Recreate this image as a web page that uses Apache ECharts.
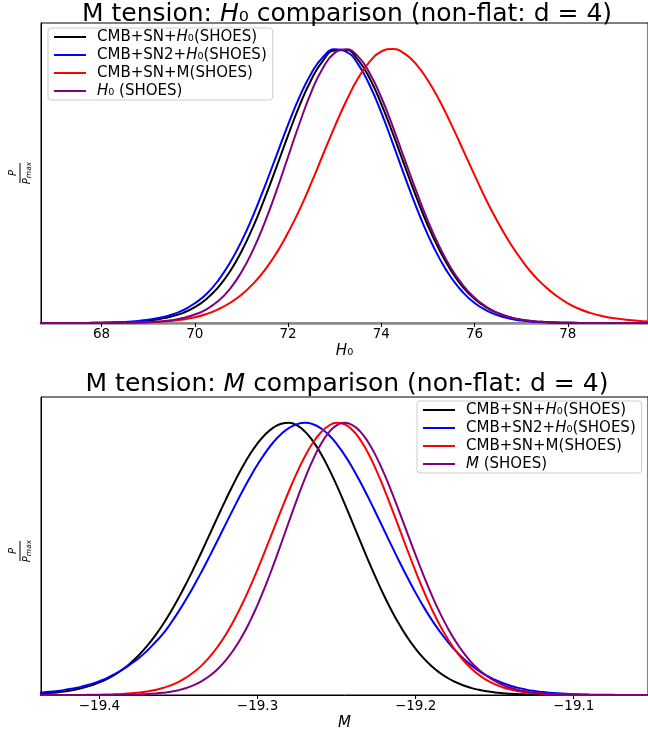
<!DOCTYPE html>
<html>
<head>
<meta charset="utf-8">
<script src="https://cdn.jsdelivr.net/npm/echarts@6/dist/echarts.min.js"></script>
<style>
html,body{margin:0;padding:0;background:#fff;}
#chart{width:648px;height:741px;}
</style>
</head>
<body>
<div id="chart"></div>
<script>
// ---------- data ----------
const seriesNames = ['CMB+SN+H0(SHOES)', 'CMB+SN2+H0(SHOES)', 'CMB+SN+M(SHOES)'];
const lastNameTop = 'H0 (SHOES)';
const lastNameBottom = 'M (SHOES)';
const colors = ['#000000', '#0000ff', '#ff0000', '#800080'];

// Top panel: H0 grid and normalised probabilities
const h0X = [66.5,66.75,67,67.25,67.5,67.75,68,68.25,68.5,68.75,69,69.25,69.5,69.75,70,70.25,70.5,70.75,71,71.25,71.5,71.75,72,72.25,72.5,72.75,73,73.25,73.5,73.75,74,74.25,74.5,74.75,75,75.25,75.5,75.75,76,76.25,76.5,76.75,77,77.25,77.5,77.75,78,78.25,78.5,78.75,79,79.25,79.5,79.75];
const h0Black  = [0,0,0,0,0.0001,0.0003,0.0008,0.0015,0.003,0.005,0.009,0.015,0.024,0.037,0.058,0.088,0.130,0.187,0.261,0.351,0.456,0.569,0.685,0.795,0.889,0.958,0.995,0.996,0.960,0.893,0.799,0.690,0.574,0.460,0.355,0.265,0.190,0.131,0.088,0.057,0.036,0.021,0.012,0.0068,0.0037,0.0019,0.0009,0.0004,0.0002,0.0001,0,0,0,0];
const h0Blue   = [0,0,0,0.0001,0.0003,0.0006,0.0012,0.0022,0.004,0.0068,0.012,0.019,0.030,0.047,0.072,0.106,0.155,0.219,0.298,0.392,0.499,0.611,0.724,0.827,0.912,0.971,0.999,0.990,0.945,0.868,0.768,0.654,0.536,0.423,0.321,0.235,0.165,0.112,0.073,0.046,0.028,0.016,0.009,0.0049,0.0025,0.0013,0.0007,0.0003,0.0002,0.0001,0,0,0,0];
const h0Red    = [0,0,0,0,0.0001,0.0001,0.0002,0.0004,0.0007,0.0013,0.0025,0.0045,0.008,0.013,0.021,0.033,0.050,0.073,0.103,0.143,0.193,0.255,0.330,0.415,0.512,0.615,0.717,0.811,0.893,0.954,0.991,1.0,0.983,0.944,0.885,0.811,0.725,0.633,0.540,0.449,0.368,0.295,0.232,0.178,0.135,0.100,0.072,0.051,0.036,0.025,0.017,0.012,0.008,0.005];
const h0Purple = [0,0,0,0,0,0,0.0001,0.0002,0.0007,0.0014,0.003,0.0055,0.010,0.018,0.031,0.050,0.080,0.124,0.186,0.267,0.367,0.482,0.607,0.731,0.844,0.932,0.986,0.999,0.973,0.912,0.823,0.715,0.597,0.481,0.372,0.278,0.199,0.138,0.092,0.059,0.036,0.0215,0.0123,0.0067,0.0036,0.0018,0.0009,0.0004,0.0002,0.0001,0,0,0,0];
const h0Ticks = [68,70,72,74,76,78];

// Bottom panel: M grid and normalised probabilities
const mX = [-19.44,-19.435,-19.43,-19.425,-19.42,-19.415,-19.41,-19.405,-19.40,-19.395,-19.39,-19.385,-19.38,-19.375,-19.37,-19.365,-19.36,-19.355,-19.35,-19.345,-19.34,-19.335,-19.33,-19.325,-19.32,-19.315,-19.31,-19.305,-19.30,-19.295,-19.29,-19.285,-19.28,-19.275,-19.27,-19.265,-19.26,-19.255,-19.25,-19.245,-19.24,-19.235,-19.23,-19.225,-19.22,-19.215,-19.21,-19.205,-19.20,-19.195,-19.19,-19.185,-19.18,-19.175,-19.17,-19.165,-19.16,-19.155,-19.15,-19.145,-19.14,-19.135,-19.13,-19.125,-19.12,-19.115,-19.11,-19.105,-19.10,-19.095,-19.09,-19.085,-19.08,-19.075,-19.07,-19.065,-19.06,-19.055,-19.05];
const mBlack  = [0.0041,0.0058,0.0081,0.0111,0.0151,0.0203,0.0270,0.0355,0.0463,0.0596,0.0759,0.0956,0.1192,0.1469,0.1792,0.2163,0.2582,0.3048,0.3559,0.4111,0.4698,0.5311,0.5939,0.6570,0.7188,0.7781,0.8332,0.8825,0.9247,0.9584,0.9826,0.9965,1.0,0.9903,0.9678,0.9331,0.8876,0.8329,0.7711,0.7044,0.6347,0.5643,0.4949,0.4283,0.3656,0.3079,0.2559,0.2097,0.1696,0.1353,0.1065,0.0827,0.0634,0.0479,0.0357,0.0263,0.0191,0.0137,0.0096,0.0067,0.0046,0.0031,0.0021,0.0014,0.0009,0.0006,0.0004,0.0002,0.0001,0.0001,0,0,0,0,0,0,0,0,0];
const mBlue   = [0.008,0.010,0.013,0.016,0.021,0.026,0.033,0.041,0.051,0.063,0.078,0.095,0.115,0.136,0.162,0.192,0.2236,0.2629,0.3063,0.3534,0.4041,0.4578,0.5139,0.5716,0.6298,0.6877,0.7439,0.7973,0.8467,0.8908,0.9287,0.9592,0.9817,0.9954,1.0,0.995,0.9802,0.956,0.9231,0.8825,0.8353,0.7827,0.7261,0.667,0.6065,0.5461,0.4868,0.4296,0.3753,0.3247,0.278,0.2357,0.1979,0.1645,0.1353,0.1103,0.0889,0.071,0.0561,0.0439,0.034,0.0261,0.0198,0.0149,0.0111,0.0082,0.006,0.0043,0.0031,0.0022,0.0015,0.0011,0.0007,0.0005,0.0003,0.0002,0.0001,0.0001,0];
const mRed    = [0,0,0.0001,0.0001,0.0002,0.0003,0.0004,0.0007,0.0011,0.0018,0.0027,0.0041,0.0061,0.0089,0.0128,0.0183,0.0256,0.0354,0.0481,0.0645,0.0852,0.1108,0.1421,0.1794,0.2233,0.2737,0.3306,0.3935,0.4613,0.5329,0.6065,0.6801,0.7514,0.8178,0.8771,0.9267,0.9646,0.9894,1.0,0.9947,0.9737,0.9376,0.8881,0.8275,0.7584,0.6839,0.6065,0.5292,0.4542,0.3834,0.3184,0.2602,0.2091,0.1653,0.1285,0.0983,0.074,0.0548,0.0399,0.0286,0.0201,0.0139,0.0095,0.0064,0.0042,0.0027,0.0017,0.0011,0.0007,0.0004,0.0002,0.0001,0.0001,0,0,0,0,0,0];
const mPurple = [0,0,0,0,0,0,0.0001,0.0001,0.0002,0.0003,0.0005,0.0008,0.0013,0.0021,0.0033,0.0052,0.008,0.012,0.0178,0.0259,0.037,0.0519,0.0714,0.0966,0.1282,0.167,0.2137,0.2685,0.3313,0.4013,0.4773,0.5575,0.6393,0.7199,0.7959,0.8641,0.9211,0.9641,0.9909,1.0,0.9918,0.9677,0.9287,0.8768,0.8142,0.7439,0.6685,0.591,0.5139,0.4396,0.37,0.3062,0.2494,0.1997,0.1574,0.122,0.093,0.0698,0.0515,0.0374,0.0267,0.0187,0.0129,0.0088,0.0059,0.0039,0.0025,0.0016,0.001,0.0006,0.0004,0.0002,0.0001,0.0001,0,0,0,0,0];
const mTicks = [-19.4,-19.3,-19.2,-19.1];

// ---------- chart ----------
const FONT = 'DejaVu Sans';
const pairs = (xs, ys) => xs.map((x, i) => [x, ys[i]]);

const legendLabel = {
  'CMB+SN+H0(SHOES)': '{g| }CMB+SN+{i|H}₀(SHOES)',
  'CMB+SN2+H0(SHOES)': '{g| }CMB+SN2+{i|H}₀(SHOES)',
  'CMB+SN+M(SHOES)': '{g| }CMB+SN+M(SHOES)',
  'H0 (SHOES)': '{g| }{i|H}₀ (SHOES)',
  'M (SHOES)': '{g| }{i|M} (SHOES)'
};
const LEG_FS = 15;
const richBase = {
  g: {width: 6, fontSize: LEG_FS, fontFamily: FONT, lineHeight: 18},
  i: {fontStyle: 'italic', fontSize: LEG_FS, fontFamily: FONT, color: '#000', lineHeight: 18}
};

function mkSeries(name, xs, ys, color, idx) {
  return {
    type: 'line', name: name, xAxisIndex: idx, yAxisIndex: idx,
    data: pairs(xs, ys), smooth: 0.5, showSymbol: false, symbol: 'none',
    lineStyle: {color: color, width: 2}, itemStyle: {color: color},
    emphasis: {disabled: true}, animation: false
  };
}

function mkLegend(names, left, top) {
  return {
    orient: 'vertical', left: left, top: top,
    data: names, icon: 'rect', itemWidth: 32, itemHeight: 2, itemGap: 0,
    padding: [0, 6, 0, 6],
    backgroundColor: 'rgba(255,255,255,0.85)', borderColor: '#cccccc', borderWidth: 1, borderRadius: 3,
    formatter: n => legendLabel[n],
    textStyle: {fontSize: LEG_FS, fontFamily: FONT, color: '#000', lineHeight: 18, rich: richBase},
    selectedMode: false
  };
}

function mkXAxis(idx, min, max, ticks, name, lineColor, lineWidth, fmt) {
  return {
    type: 'value', gridIndex: idx, min: min, max: max,
    name: name, nameLocation: 'middle', nameGap: 21,
    nameTextStyle: {fontSize: 15, fontFamily: FONT, color: '#000',
      rich: {i: {fontStyle: 'italic', fontSize: 15, fontFamily: FONT, color: '#000'}}},
    axisLine: {show: true, onZero: false, lineStyle: {color: lineColor, width: lineWidth}},
    axisTick: {show: true, length: 4, inside: false, customValues: ticks, lineStyle: {color: '#000', width: 1}},
    axisLabel: {show: true, customValues: ticks, margin: 4, fontSize: 13.5, fontFamily: FONT, color: '#000', formatter: fmt},
    splitLine: {show: false}
  };
}
function mkYAxis(idx) {
  return {
    type: 'value', gridIndex: idx, min: 0, max: 1.095,
    axisLine: {show: true, lineStyle: {color: '#000', width: 1}},
    axisTick: {show: false}, axisLabel: {show: false}, splitLine: {show: false}
  };
}

function fracLabel(cx, cy) {
  return {
    type: 'group', x: cx, y: cy, rotation: Math.PI / 2, silent: true,
    children: [
      {type: 'text', x: 0, y: -2, style: {text: 'P', font: 'italic 10px "DejaVu Sans"', fill: '#000', align: 'center', verticalAlign: 'bottom'}},
      {type: 'line', shape: {x1: -10, y1: 0, x2: 10, y2: 0}, style: {stroke: '#000', lineWidth: 1}},
      {type: 'text', x: 0, y: 1, style: {
        text: '{p|P}{m|max}', align: 'center', verticalAlign: 'top',
        rich: {p: {font: 'italic 10px "DejaVu Sans"', fill: '#000', lineHeight: 12},
               m: {font: 'italic 7.5px "DejaVu Sans"', fill: '#000', lineHeight: 12, padding: [4, 0, 0, 0]}}
      }}
    ]
  };
}

const TITLE_FS = 25;
const titleRich = {i: {fontStyle: 'italic', fontSize: TITLE_FS, fontFamily: FONT, color: '#000'}};
const option = {
  backgroundColor: '#ffffff',
  animation: false,
  title: [
    {text: 'M tension: {i|H}₀ comparison (non-flat: d = 4)', left: 347, top: 2, textAlign: 'center', padding: 0,
     textStyle: {fontSize: TITLE_FS, fontWeight: 'normal', fontFamily: FONT, color: '#000', rich: titleRich}},
    {text: 'M tension: {i|M} comparison (non-flat: d = 4)', left: 347, top: 372, textAlign: 'center', padding: 0,
     textStyle: {fontSize: TITLE_FS, fontWeight: 'normal', fontFamily: FONT, color: '#000', rich: titleRich}}
  ],
  grid: [
    {left: 41, right: -5, top: 23, height: 300, show: true, borderColor: '#000', borderWidth: 1, backgroundColor: 'transparent'},
    {left: 41, right: -5, top: 397, height: 298, show: true, borderColor: '#000', borderWidth: 1, backgroundColor: 'transparent'}
  ],
  legend: [
    mkLegend(seriesNames.concat([lastNameTop]), 48, 28),
    mkLegend(seriesNames.concat([lastNameBottom]), 417, 401)
  ],
  xAxis: [
    mkXAxis(0, 66.70, 79.72, h0Ticks, '{i|H}₀', '#8c8c8c', 2.5, v => String(v)),
    mkXAxis(1, -19.437, -19.053, mTicks, '{i|M}', '#000', 1, v => v.toFixed(1).replace('-', '\u2212'))
  ],
  yAxis: [mkYAxis(0), mkYAxis(1)],
  series: [
    mkSeries(seriesNames[0], h0X, h0Black, colors[0], 0),
    mkSeries(seriesNames[1], h0X, h0Blue, colors[1], 0),
    mkSeries(seriesNames[2], h0X, h0Red, colors[2], 0),
    mkSeries(lastNameTop, h0X, h0Purple, colors[3], 0),
    mkSeries(seriesNames[0], mX, mBlack, colors[0], 1),
    mkSeries(seriesNames[1], mX, mBlue, colors[1], 1),
    mkSeries(seriesNames[2], mX, mRed, colors[2], 1),
    mkSeries(lastNameBottom, mX, mPurple, colors[3], 1)
  ],
  graphic: [fracLabel(20, 173), fracLabel(20, 551)]
};

const chart = echarts.init(document.getElementById('chart'), null, {renderer: 'canvas'});
chart.setOption(option);
</script>
</body>
</html>
